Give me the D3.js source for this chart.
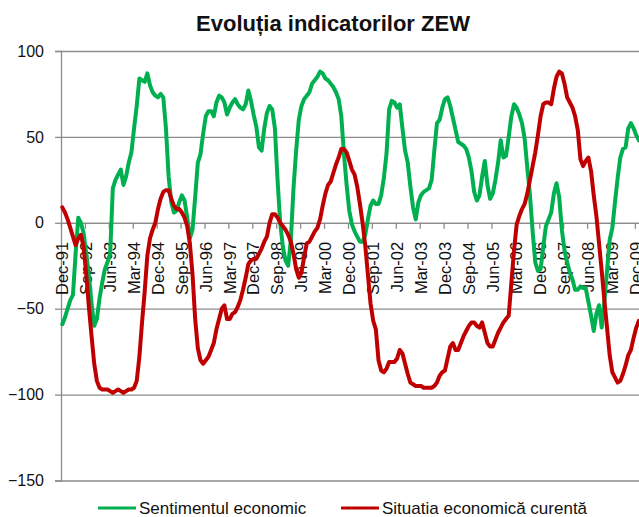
<!DOCTYPE html>
<html>
<head>
<meta charset="utf-8">
<script src="https://cdnjs.cloudflare.com/ajax/libs/d3/7.8.5/d3.min.js"></script>
<style>
  body { margin: 0; background: #fff; }
  text { font-family: "Liberation Sans", Arial, sans-serif; fill: #111; }
</style>
</head>
<body>
<div id="data-container"></div>
<script>
// 1. data, monthly from Dec-91
const startMonth = new Date(1991, 11, 1)

const sentiment = [
  -59, -55, -50, -45, -42, -18, 3, 0, -6, -18,
  -31, -47, -60, -56, -44, -35, -27, -23, -18, 20,
  25, 28, 31, 22, 27, 35, 41, 55, 68, 84,
  83, 82, 87, 80, 76, 74, 73, 75, 73, 55,
  27, 12, 6, 7, 12, 16, 13, 3, -9, -4,
  15, 35, 40, 52, 62, 65, 65, 62, 70, 74,
  73, 70, 63, 67, 70, 72, 69, 67, 66, 69,
  77, 71, 63, 56, 44, 42, 55, 64, 68, 66,
  55, 25, 0, -14, -22, -25, -10, 20, 42, 60,
  68, 72, 74, 76, 81, 83, 85, 88, 87, 84,
  83, 81, 79, 76, 72, 62, 40, 22, 7, -1,
  -5, -8, -11, -11, -7, 2, 10, 13, 11, 11,
  16, 26, 40, 66, 71, 70, 67, 69, 55, 42,
  35, 21, 9, 2, 12, 16, 18, 19, 20, 25,
  42, 58, 60, 67, 72, 73, 68, 61, 54, 47,
  46, 45, 43, 38, 30, 18, 13, 16, 27, 36,
  22, 14, 17, 25, 35, 48, 38, 39, 50, 62,
  69, 67, 63, 58, 49, 32, 16, -5, -23, -28,
  -27, -14, -2, 2, 6, 17, 23, 15, -4, -16,
  -23, -29, -33, -39, -39, -37, -38, -38, -46, -54,
  -63, -53, -48, -61, -46, -28, -10, -3, 12, 26,
  38, 43, 44, 55, 58, 55, 51, 48
]

const currentSituation = [
  9, 6, 2, -3, -8, -13, -9, -7, -14, -30,
  -49, -66, -82, -92, -96, -97, -97, -97, -98, -99,
  -98, -97, -98, -99, -98, -97, -97, -96, -92, -78,
  -58, -40, -19, -9, -4, 0, 8, 14, 18, 19,
  19, 14, 10, 8, 8, 6, 3, -2, -12, -30,
  -56, -73, -80, -82, -80, -78, -74, -70, -62, -56,
  -50, -48, -56, -56, -53, -52, -49, -45, -39, -32,
  -24, -22, -21, -21, -18, -15, -11, -8, 0, 5,
  5, 3, 0, -2, -4, -7, -11, -18, -27, -32,
  -29, -20, -12, -11, -8, -5, -3, 2, 10, 17,
  22, 24, 29, 34, 38, 43, 43, 41, 36, 31,
  28, 21, 11, 0, -13, -30, -47, -57, -62, -80,
  -86, -87, -85, -81, -81, -81, -79, -74, -76, -82,
  -88, -93, -94, -95, -95, -95, -96, -96, -96, -96,
  -95, -93, -89, -87, -86, -79, -72, -70, -74, -74,
  -70, -66, -63, -60, -58, -58, -60, -61, -58, -64,
  -70, -72, -72, -68, -64, -61, -58, -56, -54, -35,
  -16, -1, 4, 8, 11, 17, 25, 33, 41, 51,
  62, 69, 70, 70, 69, 78, 85, 88, 87, 81,
  73, 70, 67, 62, 54, 37, 33, 36, 38, 30,
  16, 4, -12, -28, -45, -61, -77, -87, -90, -93,
  -92, -88, -83, -77, -74, -67, -61, -57
]

const tickLabels = [
  "Dec-91", "Sep-92", "Jun-93", "Mar-94", "Dec-94", "Sep-95", "Jun-96",
  "Mar-97", "Dec-97", "Sep-98", "Jun-99", "Mar-00", "Dec-00", "Sep-01",
  "Jun-02", "Mar-03", "Dec-03", "Sep-04", "Jun-05", "Mar-06", "Dec-06",
  "Sep-07", "Jun-08", "Mar-09", "Dec-09"
]
const yTicks = [100, 50, 0, -50, -100, -150]
const seriesNames = ["Sentimentul economic", "Situatia economică curentă"]
const seriesColors = ["#00b050", "#c00000"]

// month categories (one per value)
const months = d3.timeMonth.range(startMonth, d3.timeMonth.offset(startMonth, sentiment.length))

// 2. global svg settings
const width = 639
const height = 517
const plotLeft = 61
const plotTop = 51
const plotBottom = 480.5
const monthStep = 2.657
const labelEvery = 9
const nCats = months.length + 1

const x = d3.scaleLinear().domain([0, nCats]).range([plotLeft, plotLeft + nCats * monthStep])
const y = d3.scaleLinear().domain([-150, 100]).range([plotBottom, plotTop])

const svg = d3.select("#data-container")
  .append("svg")
  .attr("width", width)
  .attr("height", height)

// 3. title
svg.append("text")
  .attr("x", 333)
  .attr("y", 31)
  .attr("text-anchor", "middle")
  .style("font-size", "22px")
  .style("font-weight", "bold")
  .text("Evoluția indicatorilor ZEW")

// 4. horizontal gridlines + y axis
const grid = svg.append("g")
  .attr("transform", `translate(${plotLeft},0)`)
  .call(d3.axisLeft(y).tickValues(yTicks).tickSize(-(width - plotLeft + 10)).tickFormat(""))
grid.select(".domain").remove()
grid.selectAll("line").attr("stroke", "#8c8c8c").attr("stroke-width", 1.3)

const yAxis = svg.append("g")
  .attr("transform", `translate(${plotLeft},0)`)
  .call(d3.axisLeft(y).tickValues(yTicks).tickSize(6).tickPadding(11))
yAxis.select(".domain").attr("stroke", "#8c8c8c").attr("stroke-width", 1.3)
yAxis.selectAll("line").attr("stroke", "#8c8c8c").attr("stroke-width", 1.3)
yAxis.selectAll("text")
  .style("font-size", "16px")
  .style("font-family", "'Liberation Sans', Arial, sans-serif")
  .attr("fill", "#111")

// 5. category axis sitting on zero
const tickIdx = d3.range(0, months.length, labelEvery)
const xAxis = svg.append("g")
  .attr("transform", `translate(0,${y(0)})`)
  .call(d3.axisBottom(x).tickValues(tickIdx.slice(1)).tickSize(6).tickFormat(""))
xAxis.select(".domain").attr("stroke", "#8c8c8c").attr("stroke-width", 1.3)
xAxis.selectAll("line").attr("stroke", "#8c8c8c").attr("stroke-width", 1.3)

svg.append("g")
  .selectAll("text")
  .data(tickLabels)
  .enter()
  .append("text")
  .attr("transform", (d, i) => `translate(${x(tickIdx[i] + 0.5)},${y(0) + 19}) rotate(-90)`)
  .attr("text-anchor", "end")
  .attr("dy", "0.35em")
  .style("font-size", "16.5px")
  .text(d => d)

// 6. the two lines
const line = d3.line()
  .x((d, i) => x(i + 0.5))
  .y(d => y(d))

svg.selectAll(".series")
  .data([sentiment, currentSituation])
  .enter()
  .append("path")
  .attr("class", "series")
  .attr("d", line)
  .attr("fill", "none")
  .attr("stroke", (d, i) => seriesColors[i])
  .attr("stroke-width", 4)
  .attr("stroke-linejoin", "round")
  .attr("stroke-linecap", "round")

// 7. legend
const legendX = [98, 341]
const legend = svg.selectAll(".legend")
  .data(seriesNames)
  .enter()
  .append("g")
  .attr("class", "legend")
  .attr("transform", (d, i) => `translate(${legendX[i]},508)`)
legend.append("line")
  .attr("x1", 0).attr("x2", 38)
  .attr("stroke", (d, i) => seriesColors[i])
  .attr("stroke-width", 3)
legend.append("text")
  .attr("x", 41)
  .attr("dy", "0.35em")
  .style("font-size", "17px")
  .text(d => d)
</script>
</body>
</html>
